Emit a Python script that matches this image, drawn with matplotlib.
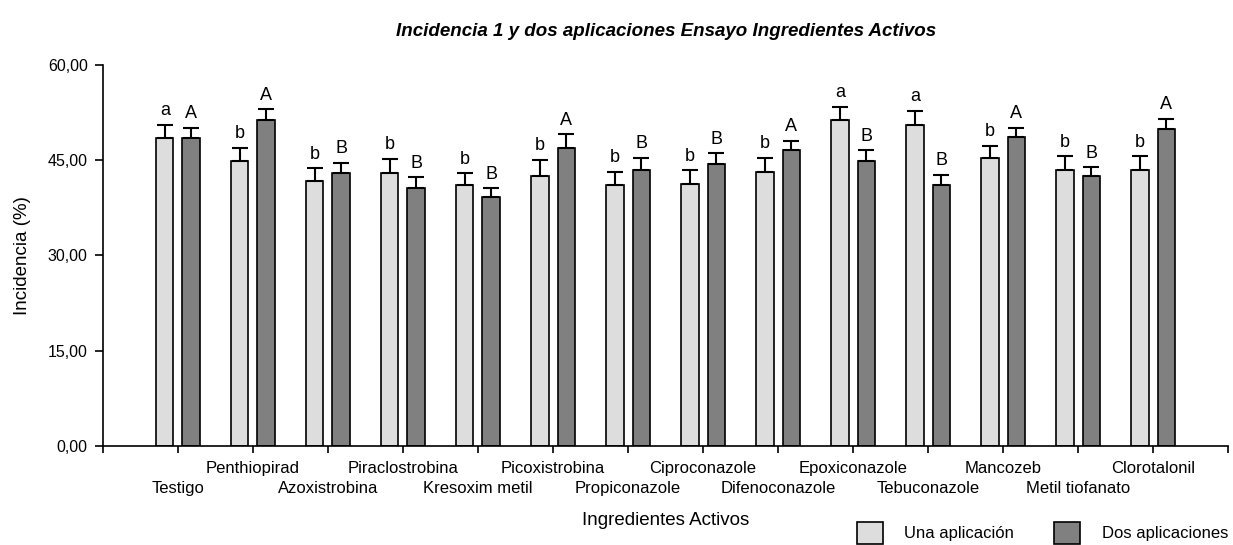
import numpy as np
import matplotlib
matplotlib.use("Agg")
import matplotlib.pyplot as plt
from matplotlib.patches import Patch

plt.rcParams['font.family'] = ['Liberation Sans', 'DejaVu Sans']

# Datos
ingredientes = ["Testigo", "Penthiopirad", "Azoxistrobina", "Piraclostrobina",
                "Kresoxim metil", "Picoxistrobina", "Propiconazole", "Ciproconazole",
                "Difenoconazole", "Epoxiconazole", "Tebuconazole", "Mancozeb",
                "Metil tiofanato", "Clorotalonil"]
una_aplic = [48.5, 44.9, 41.8, 43.0, 41.05, 42.5, 41.05, 41.3, 43.2, 51.3, 50.6, 45.35, 43.5, 43.5]
una_err = [2.05, 2.1, 1.95, 2.2, 1.9, 2.6, 2.15, 2.15, 2.15, 2.1, 2.15, 1.9, 2.1, 2.1]
dos_aplic = [48.5, 51.3, 43.0, 40.6, 39.2, 47.0, 43.5, 44.4, 46.55, 44.9, 41.05, 48.7, 42.5, 49.9]
dos_err = [1.6, 1.7, 1.6, 1.7, 1.4, 2.1, 1.9, 1.7, 1.5, 1.65, 1.65, 1.4, 1.4, 1.65]
letras_una = ["a", "b", "b", "b", "b", "b", "b", "b", "b", "a", "a", "b", "b", "b"]
letras_dos = ["A", "A", "B", "B", "B", "A", "B", "B", "A", "B", "B", "A", "B", "A"]

x = np.arange(len(ingredientes))
ancho = 0.23
desp = 0.175

fig = plt.figure(figsize=(12.33, 5.45), dpi=100)
ax = fig.add_axes([0.0835, 0.1817, 0.9125, 0.699])

err_kw = dict(ecolor="black", elinewidth=1.5, capsize=6, capthick=1.5)
ax.bar(x - desp, una_aplic, ancho, color="#dddddd", edgecolor="black", linewidth=1.2,
       yerr=[np.zeros(len(x)), una_err], error_kw=err_kw, zorder=2)
ax.bar(x + desp, dos_aplic, ancho, color="#808080", edgecolor="black", linewidth=1.2,
       yerr=[np.zeros(len(x)), dos_err], error_kw=err_kw, zorder=2)

# Letras de significancia
for i in range(len(x)):
    ax.annotate(letras_una[i], (x[i] - desp, una_aplic[i] + una_err[i]),
                xytext=(0, 4), textcoords="offset points", ha="center", va="bottom", fontsize=13)
    ax.annotate(letras_dos[i], (x[i] + desp, dos_aplic[i] + dos_err[i]),
                xytext=(0, 4), textcoords="offset points", ha="center", va="bottom", fontsize=13)

ax.set_xlim(-1, 14)
ax.set_ylim(0, 60)
ax.set_yticks([0, 15, 30, 45, 60])
ax.set_yticklabels(["0,00", "15,00", "30,00", "45,00", "60,00"], fontsize=11.5)

# Etiquetas en dos filas alternadas: impares arriba (mayores), pares abajo (menores)
impares = [i for i in x if i % 2 == 1]
pares = [i for i in x if i % 2 == 0]
ax.set_xticks(impares + [-1, 14])
ax.set_xticklabels([ingredientes[i] for i in impares] + ["", ""], fontsize=12)
ax.set_xticks(pares, minor=True)
ax.set_xticklabels([ingredientes[i] for i in pares], minor=True, fontsize=12)
ax.tick_params(axis="x", which="major", length=5, width=1.2, pad=6)
ax.tick_params(axis="x", which="minor", length=5, width=1.2, pad=20)
ax.tick_params(axis="y", length=6, width=1.2, pad=5)

for lado in ["top", "right"]:
    ax.spines[lado].set_visible(False)
for lado in ["left", "bottom"]:
    ax.spines[lado].set_linewidth(1.2)

ax.set_xlabel("Ingredientes Activos", fontsize=13.5, labelpad=12)
ax.set_ylabel("Incidencia (%)", fontsize=13.5, labelpad=12)

fig.text(0.54, 0.942, "Incidencia 1 y dos aplicaciones Ensayo Ingredientes Activos",
         ha="center", va="center", fontsize=13.5, fontweight="bold", fontstyle="italic")

handles = [Patch(facecolor="#dddddd", edgecolor="black", linewidth=1.2, label="Una aplicación"),
           Patch(facecolor="#808080", edgecolor="black", linewidth=1.2, label="Dos aplicaciones")]
fig.legend(handles=handles, loc="center left", bbox_to_anchor=(0.695, 0.022), ncol=2,
           frameon=False, fontsize=12, handlelength=1.55, handleheight=1.6,
           handletextpad=1.3, columnspacing=2.4, borderaxespad=0, borderpad=0)

fig.savefig("out.png", dpi=100)
